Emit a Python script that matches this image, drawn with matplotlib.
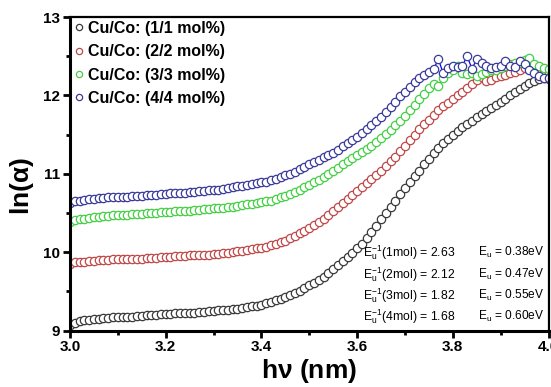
import numpy as np
import matplotlib
matplotlib.use('Agg')
import matplotlib.pyplot as plt

plt.rcParams['font.family'] = ['Liberation Sans', 'DejaVu Sans']
plt.rcParams['mathtext.fontset'] = 'custom'
plt.rcParams['mathtext.rm'] = 'Liberation Sans'

# photon energy grid (step 0.01)
hv = np.round(np.arange(3.00, 4.0001, 0.01), 2)

ln_a_1 = [9.07, 9.10, 9.12, 9.13, 9.14, 9.15, 9.15, 9.16, 9.16, 9.17,
          9.17, 9.18, 9.18, 9.18, 9.19, 9.19, 9.20, 9.20, 9.20, 9.21,
          9.21, 9.21, 9.22, 9.22, 9.22, 9.23, 9.23, 9.24, 9.24, 9.25,
          9.25, 9.26, 9.26, 9.27, 9.28, 9.28, 9.29, 9.30, 9.31, 9.32,
          9.33, 9.35, 9.37, 9.39, 9.41, 9.43, 9.46, 9.48, 9.51, 9.54,
          9.58, 9.61, 9.65, 9.69, 9.74, 9.79, 9.84, 9.89, 9.94, 9.99,
          10.05, 10.11, 10.18, 10.26, 10.34, 10.42, 10.50, 10.58, 10.66, 10.74,
          10.82, 10.89, 10.97, 11.04, 11.12, 11.19, 11.26, 11.33, 11.39, 11.45,
          11.50, 11.55, 11.60, 11.64, 11.68, 11.72, 11.76, 11.80, 11.84, 11.88,
          11.92, 11.96, 12.00, 12.04, 12.08, 12.12, 12.16, 12.19, 12.21, 12.22,
          12.21]

ln_a_2 = [9.85, 9.87, 9.88, 9.88, 9.89, 9.89, 9.90, 9.90, 9.90, 9.91,
          9.91, 9.91, 9.92, 9.92, 9.92, 9.92, 9.93, 9.93, 9.93, 9.94,
          9.94, 9.94, 9.95, 9.95, 9.95, 9.96, 9.96, 9.96, 9.97, 9.97,
          9.98, 9.98, 9.99, 9.99, 10.00, 10.01, 10.02, 10.03, 10.04, 10.05,
          10.06, 10.07, 10.09, 10.11, 10.13, 10.15, 10.18, 10.21, 10.24, 10.27,
          10.31, 10.35, 10.39, 10.43, 10.48, 10.53, 10.58, 10.63, 10.68, 10.73,
          10.78, 10.83, 10.88, 10.93, 10.98, 11.04, 11.10, 11.16, 11.22, 11.29,
          11.36, 11.43, 11.50, 11.57, 11.63, 11.69, 11.75, 11.81, 11.86, 11.91,
          11.96, 12.01, 12.05, 12.10, 12.15, 12.20, 12.23, 12.18, 12.20, 12.23,
          12.25, 12.26, 12.28, 12.30, 12.33, 12.35, 12.37, 12.38, 12.33, 12.30,
          12.28]

ln_a_3 = [10.39, 10.41, 10.42, 10.43, 10.44, 10.45, 10.45, 10.46, 10.46, 10.47,
          10.47, 10.48, 10.48, 10.49, 10.49, 10.49, 10.50, 10.50, 10.50, 10.51,
          10.51, 10.51, 10.52, 10.52, 10.53, 10.53, 10.54, 10.54, 10.55, 10.55,
          10.56, 10.56, 10.57, 10.58, 10.58, 10.59, 10.60, 10.61, 10.62, 10.63,
          10.64, 10.65, 10.66, 10.68, 10.70, 10.72, 10.74, 10.77, 10.80, 10.83,
          10.86, 10.89, 10.92, 10.96, 11.00, 11.04, 11.08, 11.12, 11.16, 11.20,
          11.24, 11.28, 11.32, 11.36, 11.41, 11.46, 11.51, 11.56, 11.62, 11.68,
          11.74, 11.81, 11.88, 11.95, 12.02, 12.09, 12.15, 12.12, 12.22, 12.28,
          12.32, 12.38, 12.28, 12.27, 12.29, 12.25, 12.27, 12.30, 12.32, 12.33,
          12.35, 12.38, 12.40, 12.41, 12.42, 12.45, 12.48, 12.40, 12.37, 12.35,
          12.34]

ln_a_4 = [10.63, 10.65, 10.66, 10.67, 10.68, 10.68, 10.69, 10.69, 10.70, 10.70,
          10.70, 10.71, 10.71, 10.72, 10.72, 10.72, 10.73, 10.73, 10.73, 10.74,
          10.74, 10.75, 10.75, 10.76, 10.76, 10.77, 10.77, 10.78, 10.78, 10.79,
          10.80, 10.80, 10.81, 10.82, 10.83, 10.84, 10.85, 10.86, 10.87, 10.88,
          10.89, 10.90, 10.92, 10.94, 10.96, 10.98, 11.00, 11.03, 11.06, 11.09,
          11.12, 11.15, 11.18, 11.21, 11.24, 11.27, 11.31, 11.35, 11.39, 11.43,
          11.47, 11.52, 11.57, 11.62, 11.67, 11.73, 11.79, 11.85, 11.92, 11.99,
          12.05, 12.11, 12.17, 12.22, 12.26, 12.30, 12.34, 12.46, 12.28, 12.35,
          12.37, 12.36, 12.38, 12.50, 12.34, 12.46, 12.42, 12.37, 12.35, 12.36,
          12.38, 12.44, 12.38, 12.36, 12.44, 12.40, 12.33, 12.28, 12.25, 12.22,
          12.22]

labels = ['Cu/Co: (1/1 mol%)', 'Cu/Co: (2/2 mol%)',
          'Cu/Co: (3/3 mol%)', 'Cu/Co: (4/4 mol%)']
mol = ['1mol', '2mol', '3mol', '4mol']
inv_eu = ['2.63', '2.12', '1.82', '1.68']
eu = ['0.38', '0.47', '0.55', '0.60']

line_cols = ['#000000', '#ff0000', '#00dd00', '#0000ff']
edge_cols = ['#3a3a3a', '#c04848', '#44d044', '#3a3a9a']

fig = plt.figure(figsize=(5.51, 3.87), dpi=100)
ax = fig.add_axes([0.127, 0.1455, 0.8685, 0.8105])

for y, lab, lc, ec in zip([ln_a_1, ln_a_2, ln_a_3, ln_a_4], labels, line_cols, edge_cols):
    ax.plot(hv, y, '-o', color=lc, lw=0.9, ms=6, mfc='white',
            mec=ec, mew=0.9, label=lab)

ax.set_xlim(3.0, 4.0)
ax.set_ylim(9, 13)
ax.set_xticks([3.0, 3.2, 3.4, 3.6, 3.8, 4.0])
ax.set_xticks([3.1, 3.3, 3.5, 3.7, 3.9], minor=True)
ax.set_yticks([9, 10, 11, 12, 13])
ax.set_yticks([9.5, 10.5, 11.5, 12.5], minor=True)
ax.xaxis.set_major_formatter(matplotlib.ticker.FormatStrFormatter('%.1f'))

for s in ['left', 'bottom']:
    ax.spines[s].set_linewidth(2.2)
for s in ['top', 'right']:
    ax.spines[s].set_linewidth(1.6)
ax.tick_params(which='major', direction='out', length=5, width=2,
               labelsize=11, pad=2)
ax.tick_params(which='minor', direction='out', length=3, width=2)
for t in ax.get_xticklabels() + ax.get_yticklabels():
    t.set_fontweight('bold')

ax.set_xlabel(r'h$\mathregular{\nu}$ (nm)', fontsize=19, fontweight='bold', labelpad=2)
ax.set_ylabel(r'ln($\mathregular{\alpha}$)', fontsize=19, fontweight='bold')
ax.yaxis.set_label_coords(-0.072, 0.46)

leg = ax.legend(loc='upper left', frameon=False, handlelength=0.6,
                handletextpad=0.3, borderaxespad=0.1, labelspacing=0.52,
                borderpad=0.15, prop={'weight': 'bold', 'size': 11.5})
for h in leg.legend_handles:
    h.set_linestyle('none')
    h.set_markersize(4.5)

for i in range(4):
    yy = 0.248 - i * 0.068
    ax.text(0.612, yy, r'E$\mathregular{_u^{-1}}$(' + mol[i] + ') = ' + inv_eu[i],
            transform=ax.transAxes, fontsize=8.8, va='center')
    ax.text(0.852, yy, r'E$\mathregular{_u}$ = ' + eu[i] + 'eV',
            transform=ax.transAxes, fontsize=8.6, va='center')

fig.savefig('out.png', dpi=100)
